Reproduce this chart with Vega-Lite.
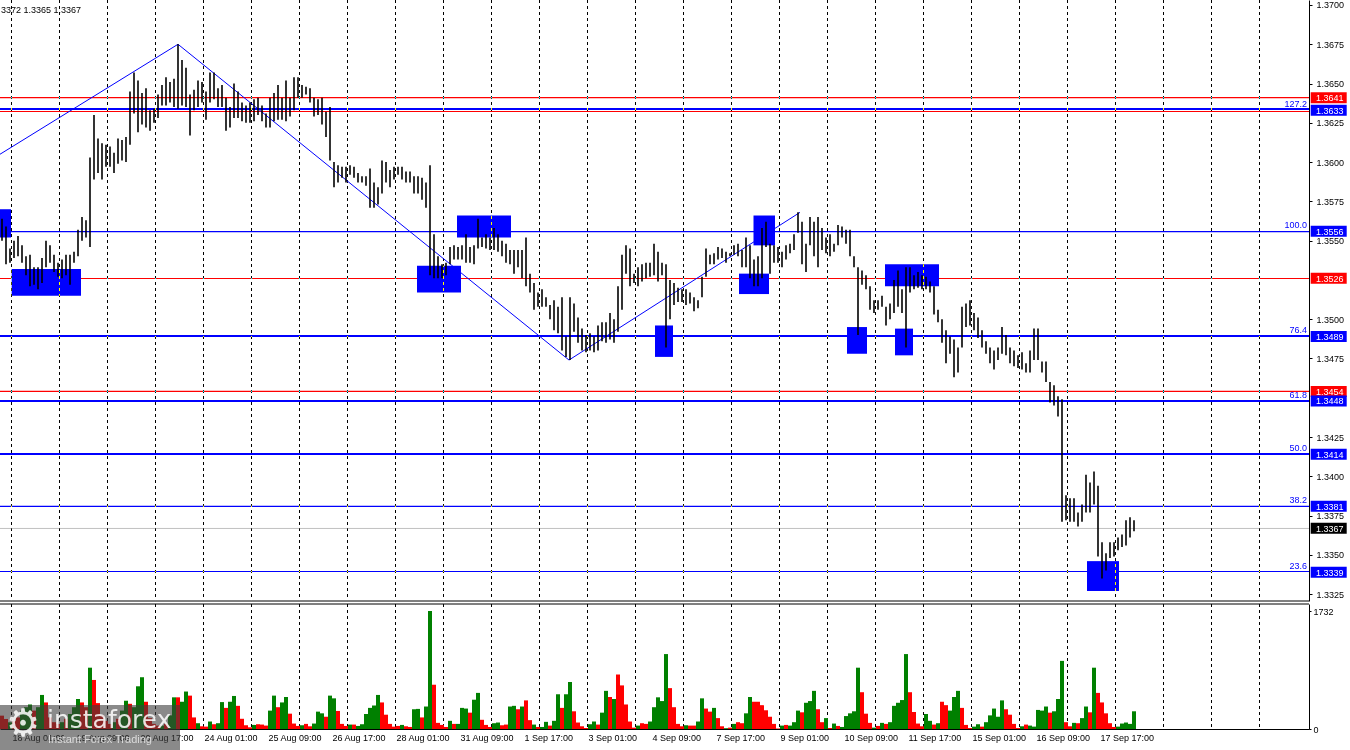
{
"$schema": "https://vega.github.io/schema/vega-lite/v6.json",
"autosize": {"type": "none"},
"padding": {"left": 0, "top": 0, "right": 41, "bottom": 21},
"background": "white",
"width": 1309,
"height": 729,
"config": {"view": {"stroke": null}, "axis": {"labelFont": "Liberation Sans", "labelFontSize": 9, "labelColor": "black", "domainColor": "black", "tickColor": "black", "grid": false, "title": null}, "text": {"font": "Liberation Sans"}},
"resolve": {"scale": {"y": "independent"}},
"datasets": {
"grid": [{"g":4.75},{"g":28.75},{"g":52.75},{"g":76.75},{"g":100.75},{"g":124.75},{"g":148.75},{"g":172.75},{"g":196.75},{"g":220.75},{"g":244.75},{"g":268.75},{"g":292.75},{"g":316.75},{"g":340.75},{"g":364.75},{"g":388.75},{"g":412.75},{"g":436.75},{"g":460.75},{"g":484.75},{"g":508.75},{"g":532.75},{"g":556.75},{"g":580.75},{"g":604.75},{"g":628.75}],
"res": [{"p":1.36411},{"p":1.36322},{"p":1.35259},{"p":1.3454}],
"fib": [{"p":1.35558},{"p":1.33808},{"p":1.33394}],
"fibx": [{"p":1.36338},{"p":1.34893},{"p":1.34479},{"p":1.34142}],
"cur": [{"p":1.33668}],
"fibtext": [{"p":1.3633,"s":"127.2"},{"p":1.3556,"s":"100.0"},{"p":1.3489,"s":"76.4"},{"p":1.3448,"s":"61.8"},{"p":1.3414,"s":"50.0"},{"p":1.3381,"s":"38.2"},{"p":1.3339,"s":"23.6"}],
"tags": [{"p":1.3641,"k":"r"},{"p":1.3633,"k":"b"},{"p":1.3556,"k":"b"},{"p":1.3526,"k":"r"},{"p":1.3489,"k":"b"},{"p":1.3454,"k":"r"},{"p":1.3448,"k":"b"},{"p":1.3414,"k":"b"},{"p":1.3381,"k":"b"},{"p":1.3367,"k":"c"},{"p":1.3339,"k":"b"}],
"boxes": [{"t1":-1,"t2":4.5,"p1":1.3570,"p2":1.3552},{"t1":4.85,"t2":39.5,"p1":1.3532,"p2":1.3515},{"t1":207.5,"t2":229.5,"p1":1.3534,"p2":1.3517},{"t1":227.5,"t2":254.5,"p1":1.3566,"p2":1.3552},{"t1":326.5,"t2":335.5,"p1":1.3496,"p2":1.3476},{"t1":368.5,"t2":383.5,"p1":1.3529,"p2":1.3516},{"t1":375.75,"t2":386.5,"p1":1.3566,"p2":1.3547},{"t1":422.5,"t2":432.5,"p1":1.3495,"p2":1.3478},{"t1":441.5,"t2":468.5,"p1":1.3535,"p2":1.3521},{"t1":446.5,"t2":455.5,"p1":1.3494,"p2":1.3477},{"t1":542.5,"t2":558.5,"p1":1.3346,"p2":1.3327}],
"zigzag": [{"t":-1,"p":1.3605},{"t":88,"p":1.3675},{"t":283.5,"p":1.3474},{"t":399,"p":1.3568}],
"bars": [
{"t":0,"h":1.3564,"l":1.3550,"v":196,"d":"d"},{"t":2,"h":1.3559,"l":1.3535,"v":147,"d":"d"},{"t":4,"h":1.3545,"l":1.3536,"v":98,"d":"u"},{"t":6,"h":1.3550,"l":1.3539,"v":120,"d":"d"},{"t":8,"h":1.3553,"l":1.3540,"v":170,"d":"d"},{"t":10,"h":1.3547,"l":1.3536,"v":270,"d":"u"},{"t":12,"h":1.3540,"l":1.3528,"v":320,"d":"u"},{"t":14,"h":1.3541,"l":1.3521,"v":360,"d":"u"},{"t":16,"h":1.3533,"l":1.3522,"v":270,"d":"d"},{"t":18,"h":1.3533,"l":1.3519,"v":320,"d":"u"},
{"t":20,"h":1.3539,"l":1.3523,"v":500,"d":"u"},{"t":22,"h":1.3550,"l":1.3533,"v":390,"d":"d"},{"t":24,"h":1.3547,"l":1.3536,"v":170,"d":"d"},{"t":26,"h":1.3541,"l":1.3530,"v":100,"d":"d"},{"t":28,"h":1.3536,"l":1.3527,"v":75,"d":"d"},{"t":30,"h":1.3538,"l":1.3526,"v":100,"d":"u"},{"t":32,"h":1.3541,"l":1.3528,"v":150,"d":"d"},{"t":34,"h":1.3541,"l":1.3522,"v":220,"d":"u"},{"t":36,"h":1.3543,"l":1.3536,"v":320,"d":"u"},{"t":38,"h":1.3557,"l":1.3540,"v":440,"d":"u"},
{"t":40,"h":1.3565,"l":1.3550,"v":390,"d":"d"},{"t":42,"h":1.3563,"l":1.3552,"v":320,"d":"d"},{"t":44,"h":1.3603,"l":1.3546,"v":900,"d":"u"},{"t":46,"h":1.3630,"l":1.3589,"v":720,"d":"d"},{"t":48,"h":1.3615,"l":1.3593,"v":380,"d":"d"},{"t":50,"h":1.3612,"l":1.3589,"v":200,"d":"d"},{"t":52,"h":1.3611,"l":1.3597,"v":120,"d":"d"},{"t":54,"h":1.3610,"l":1.3597,"v":75,"d":"d"},{"t":56,"h":1.3606,"l":1.3593,"v":100,"d":"u"},{"t":58,"h":1.3615,"l":1.3599,"v":150,"d":"d"},
{"t":60,"h":1.3614,"l":1.3601,"v":270,"d":"u"},{"t":62,"h":1.3616,"l":1.3600,"v":415,"d":"u"},{"t":64,"h":1.3645,"l":1.3611,"v":370,"d":"d"},{"t":66,"h":1.3657,"l":1.3631,"v":320,"d":"u"},{"t":68,"h":1.3652,"l":1.3619,"v":627,"d":"u"},{"t":70,"h":1.3644,"l":1.3624,"v":760,"d":"u"},{"t":72,"h":1.3647,"l":1.3622,"v":400,"d":"d"},{"t":74,"h":1.3633,"l":1.3620,"v":160,"d":"d"},{"t":76,"h":1.3634,"l":1.3625,"v":75,"d":"d"},{"t":78,"h":1.3643,"l":1.3628,"v":50,"d":"d"},
{"t":80,"h":1.3649,"l":1.3636,"v":50,"d":"u"},{"t":82,"h":1.3654,"l":1.3636,"v":75,"d":"d"},{"t":84,"h":1.3651,"l":1.3638,"v":200,"d":"u"},{"t":86,"h":1.3653,"l":1.3635,"v":465,"d":"u"},{"t":88,"h":1.3675,"l":1.3634,"v":465,"d":"d"},{"t":90,"h":1.3665,"l":1.3636,"v":400,"d":"u"},{"t":92,"h":1.3660,"l":1.3635,"v":550,"d":"u"},{"t":94,"h":1.3643,"l":1.3617,"v":490,"d":"d"},{"t":96,"h":1.3646,"l":1.3633,"v":170,"d":"d"},{"t":98,"h":1.3652,"l":1.3635,"v":85,"d":"u"},
{"t":100,"h":1.3651,"l":1.3638,"v":40,"d":"d"},{"t":102,"h":1.3645,"l":1.3627,"v":35,"d":"d"},{"t":104,"h":1.3657,"l":1.3638,"v":110,"d":"u"},{"t":106,"h":1.3657,"l":1.3640,"v":70,"d":"d"},{"t":108,"h":1.3647,"l":1.3635,"v":85,"d":"u"},{"t":110,"h":1.3649,"l":1.3635,"v":395,"d":"u"},{"t":112,"h":1.3641,"l":1.3620,"v":310,"d":"d"},{"t":114,"h":1.3635,"l":1.3622,"v":400,"d":"u"},{"t":116,"h":1.3650,"l":1.3628,"v":485,"d":"u"},{"t":118,"h":1.3645,"l":1.3628,"v":340,"d":"d"},
{"t":120,"h":1.3638,"l":1.3626,"v":150,"d":"d"},{"t":122,"h":1.3636,"l":1.3625,"v":55,"d":"d"},{"t":124,"h":1.3638,"l":1.3625,"v":25,"d":"d"},{"t":126,"h":1.3640,"l":1.3626,"v":60,"d":"u"},{"t":128,"h":1.3641,"l":1.3630,"v":70,"d":"d"},{"t":130,"h":1.3636,"l":1.3626,"v":65,"d":"d"},{"t":132,"h":1.3631,"l":1.3622,"v":50,"d":"d"},{"t":134,"h":1.3641,"l":1.3622,"v":270,"d":"u"},{"t":136,"h":1.3644,"l":1.3626,"v":490,"d":"u"},{"t":138,"h":1.3649,"l":1.3627,"v":320,"d":"d"},
{"t":140,"h":1.3641,"l":1.3627,"v":390,"d":"u"},{"t":142,"h":1.3652,"l":1.3626,"v":470,"d":"u"},{"t":144,"h":1.3641,"l":1.3629,"v":225,"d":"d"},{"t":146,"h":1.3654,"l":1.3633,"v":80,"d":"d"},{"t":148,"h":1.3654,"l":1.3641,"v":45,"d":"d"},{"t":150,"h":1.3649,"l":1.3641,"v":55,"d":"u"},{"t":152,"h":1.3648,"l":1.3643,"v":75,"d":"d"},{"t":154,"h":1.3647,"l":1.3638,"v":40,"d":"d"},{"t":156,"h":1.3641,"l":1.3629,"v":80,"d":"u"},{"t":158,"h":1.3640,"l":1.3630,"v":255,"d":"u"},
{"t":160,"h":1.3641,"l":1.3624,"v":230,"d":"u"},{"t":162,"h":1.3632,"l":1.3616,"v":180,"d":"d"},{"t":164,"h":1.3635,"l":1.3601,"v":490,"d":"u"},{"t":166,"h":1.3600,"l":1.3584,"v":450,"d":"u"},{"t":168,"h":1.3598,"l":1.3587,"v":265,"d":"d"},{"t":170,"h":1.3597,"l":1.3590,"v":75,"d":"d"},{"t":172,"h":1.3597,"l":1.3587,"v":45,"d":"d"},{"t":174,"h":1.3598,"l":1.3592,"v":65,"d":"u"},{"t":176,"h":1.3597,"l":1.3590,"v":65,"d":"d"},{"t":178,"h":1.3593,"l":1.3587,"v":45,"d":"u"},
{"t":180,"h":1.3591,"l":1.3587,"v":70,"d":"u"},{"t":182,"h":1.3591,"l":1.3585,"v":220,"d":"u"},{"t":184,"h":1.3596,"l":1.3571,"v":310,"d":"u"},{"t":186,"h":1.3587,"l":1.3571,"v":345,"d":"u"},{"t":188,"h":1.3584,"l":1.3573,"v":500,"d":"u"},{"t":190,"h":1.3601,"l":1.3580,"v":390,"d":"d"},{"t":192,"h":1.3600,"l":1.3587,"v":210,"d":"d"},{"t":194,"h":1.3595,"l":1.3584,"v":75,"d":"d"},{"t":196,"h":1.3597,"l":1.3589,"v":35,"d":"d"},{"t":198,"h":1.3597,"l":1.3592,"v":45,"d":"d"},
{"t":200,"h":1.3597,"l":1.3589,"v":60,"d":"u"},{"t":202,"h":1.3594,"l":1.3587,"v":40,"d":"d"},{"t":204,"h":1.3594,"l":1.3587,"v":30,"d":"d"},{"t":206,"h":1.3591,"l":1.3580,"v":290,"d":"u"},{"t":208,"h":1.3591,"l":1.3580,"v":295,"d":"u"},{"t":210,"h":1.3590,"l":1.3576,"v":170,"d":"d"},{"t":212,"h":1.3587,"l":1.3571,"v":330,"d":"u"},{"t":214,"h":1.3598,"l":1.3528,"v":1732,"d":"u"},{"t":216,"h":1.3554,"l":1.3526,"v":650,"d":"d"},{"t":218,"h":1.3540,"l":1.3526,"v":90,"d":"d"},
{"t":220,"h":1.3535,"l":1.3526,"v":60,"d":"d"},{"t":222,"h":1.3536,"l":1.3528,"v":30,"d":"d"},{"t":224,"h":1.3546,"l":1.3535,"v":120,"d":"u"},{"t":226,"h":1.3547,"l":1.3538,"v":75,"d":"d"},{"t":228,"h":1.3546,"l":1.3538,"v":75,"d":"u"},{"t":230,"h":1.3547,"l":1.3538,"v":310,"d":"u"},{"t":232,"h":1.3554,"l":1.3536,"v":300,"d":"u"},{"t":234,"h":1.3546,"l":1.3536,"v":240,"d":"d"},{"t":236,"h":1.3547,"l":1.3535,"v":430,"d":"u"},{"t":238,"h":1.3564,"l":1.3545,"v":530,"d":"u"},
{"t":240,"h":1.3552,"l":1.3546,"v":135,"d":"d"},{"t":242,"h":1.3554,"l":1.3545,"v":60,"d":"d"},{"t":244,"h":1.3552,"l":1.3544,"v":30,"d":"d"},{"t":246,"h":1.3558,"l":1.3544,"v":85,"d":"u"},{"t":248,"h":1.3554,"l":1.3543,"v":95,"d":"u"},{"t":250,"h":1.3550,"l":1.3540,"v":55,"d":"d"},{"t":252,"h":1.3548,"l":1.3536,"v":65,"d":"d"},{"t":254,"h":1.3544,"l":1.3535,"v":330,"d":"u"},{"t":256,"h":1.3544,"l":1.3529,"v":340,"d":"u"},{"t":258,"h":1.3544,"l":1.3533,"v":290,"d":"d"},
{"t":260,"h":1.3544,"l":1.3526,"v":330,"d":"u"},{"t":262,"h":1.3552,"l":1.3521,"v":420,"d":"d"},{"t":264,"h":1.3529,"l":1.3517,"v":130,"d":"d"},{"t":266,"h":1.3523,"l":1.3506,"v":65,"d":"u"},{"t":268,"h":1.3517,"l":1.3508,"v":30,"d":"d"},{"t":270,"h":1.3519,"l":1.3508,"v":30,"d":"u"},{"t":272,"h":1.3514,"l":1.3508,"v":105,"d":"u"},{"t":274,"h":1.3509,"l":1.3500,"v":50,"d":"d"},{"t":276,"h":1.3512,"l":1.3493,"v":120,"d":"u"},{"t":278,"h":1.3508,"l":1.3491,"v":510,"d":"u"},
{"t":280,"h":1.3514,"l":1.3480,"v":310,"d":"d"},{"t":282,"h":1.3489,"l":1.3476,"v":510,"d":"u"},{"t":284,"h":1.3514,"l":1.3474,"v":690,"d":"u"},{"t":286,"h":1.3510,"l":1.3492,"v":260,"d":"d"},{"t":288,"h":1.3501,"l":1.3485,"v":95,"d":"d"},{"t":290,"h":1.3494,"l":1.3480,"v":40,"d":"d"},{"t":292,"h":1.3490,"l":1.3479,"v":15,"d":"d"},{"t":294,"h":1.3491,"l":1.3480,"v":70,"d":"u"},{"t":296,"h":1.3489,"l":1.3479,"v":110,"d":"u"},{"t":298,"h":1.3496,"l":1.3480,"v":65,"d":"d"},
{"t":300,"h":1.3498,"l":1.3486,"v":240,"d":"u"},{"t":302,"h":1.3498,"l":1.3485,"v":560,"d":"u"},{"t":304,"h":1.3504,"l":1.3487,"v":470,"d":"d"},{"t":306,"h":1.3500,"l":1.3485,"v":440,"d":"u"},{"t":308,"h":1.3521,"l":1.3492,"v":800,"d":"d"},{"t":310,"h":1.3541,"l":1.3506,"v":640,"d":"d"},{"t":312,"h":1.3547,"l":1.3529,"v":360,"d":"d"},{"t":314,"h":1.3545,"l":1.3521,"v":110,"d":"d"},{"t":316,"h":1.3529,"l":1.3523,"v":20,"d":"d"},{"t":318,"h":1.3533,"l":1.3521,"v":50,"d":"u"},
{"t":320,"h":1.3535,"l":1.3524,"v":85,"d":"d"},{"t":322,"h":1.3536,"l":1.3526,"v":75,"d":"d"},{"t":324,"h":1.3536,"l":1.3527,"v":110,"d":"u"},{"t":326,"h":1.3548,"l":1.3528,"v":320,"d":"u"},{"t":328,"h":1.3543,"l":1.3524,"v":465,"d":"u"},{"t":330,"h":1.3536,"l":1.3528,"v":410,"d":"u"},{"t":332,"h":1.3535,"l":1.3482,"v":1100,"d":"u"},{"t":334,"h":1.3525,"l":1.3500,"v":600,"d":"d"},{"t":336,"h":1.3523,"l":1.3509,"v":320,"d":"d"},{"t":338,"h":1.3520,"l":1.3511,"v":75,"d":"d"},
{"t":340,"h":1.3519,"l":1.3511,"v":40,"d":"d"},{"t":342,"h":1.3519,"l":1.3509,"v":55,"d":"u"},{"t":344,"h":1.3517,"l":1.3510,"v":50,"d":"d"},{"t":346,"h":1.3514,"l":1.3505,"v":50,"d":"d"},{"t":348,"h":1.3512,"l":1.3507,"v":110,"d":"u"},{"t":350,"h":1.3527,"l":1.3514,"v":450,"d":"u"},{"t":352,"h":1.3545,"l":1.3527,"v":300,"d":"d"},{"t":354,"h":1.3541,"l":1.3535,"v":255,"d":"d"},{"t":356,"h":1.3542,"l":1.3535,"v":310,"d":"u"},{"t":358,"h":1.3546,"l":1.3538,"v":160,"d":"d"},
{"t":360,"h":1.3545,"l":1.3539,"v":40,"d":"d"},{"t":362,"h":1.3543,"l":1.3536,"v":12,"d":"u"},{"t":364,"h":1.3542,"l":1.3540,"v":20,"d":"d"},{"t":366,"h":1.3547,"l":1.3541,"v":75,"d":"u"},{"t":368,"h":1.3548,"l":1.3540,"v":100,"d":"d"},{"t":370,"h":1.3544,"l":1.3533,"v":85,"d":"d"},{"t":372,"h":1.3552,"l":1.3533,"v":230,"d":"u"},{"t":374,"h":1.3547,"l":1.3526,"v":470,"d":"u"},{"t":376,"h":1.3538,"l":1.3521,"v":400,"d":"d"},{"t":378,"h":1.3540,"l":1.3521,"v":400,"d":"d"},
{"t":380,"h":1.3558,"l":1.3526,"v":350,"d":"d"},{"t":382,"h":1.3562,"l":1.3546,"v":275,"d":"d"},{"t":384,"h":1.3548,"l":1.3529,"v":180,"d":"d"},{"t":386,"h":1.3547,"l":1.3536,"v":75,"d":"d"},{"t":388,"h":1.3546,"l":1.3536,"v":8,"d":"d"},{"t":390,"h":1.3543,"l":1.3533,"v":50,"d":"u"},{"t":392,"h":1.3547,"l":1.3538,"v":60,"d":"d"},{"t":394,"h":1.3548,"l":1.3542,"v":50,"d":"u"},{"t":396,"h":1.3554,"l":1.3544,"v":100,"d":"u"},{"t":398,"h":1.3568,"l":1.3555,"v":270,"d":"u"},
{"t":400,"h":1.3562,"l":1.3535,"v":245,"d":"d"},{"t":402,"h":1.3548,"l":1.3530,"v":385,"d":"u"},{"t":404,"h":1.3565,"l":1.3547,"v":410,"d":"u"},{"t":406,"h":1.3562,"l":1.3540,"v":560,"d":"u"},{"t":408,"h":1.3565,"l":1.3533,"v":290,"d":"d"},{"t":410,"h":1.3558,"l":1.3544,"v":100,"d":"d"},{"t":412,"h":1.3552,"l":1.3542,"v":160,"d":"u"},{"t":414,"h":1.3554,"l":1.3540,"v":15,"d":"d"},{"t":416,"h":1.3548,"l":1.3543,"v":80,"d":"u"},{"t":418,"h":1.3560,"l":1.3547,"v":45,"d":"d"},
{"t":420,"h":1.3559,"l":1.3552,"v":30,"d":"u"},{"t":422,"h":1.3557,"l":1.3548,"v":190,"d":"u"},{"t":424,"h":1.3557,"l":1.3540,"v":230,"d":"u"},{"t":426,"h":1.3540,"l":1.3533,"v":260,"d":"u"},{"t":428,"h":1.3533,"l":1.3490,"v":900,"d":"u"},{"t":430,"h":1.3531,"l":1.3522,"v":540,"d":"d"},{"t":432,"h":1.3528,"l":1.3519,"v":225,"d":"d"},{"t":434,"h":1.3521,"l":1.3506,"v":90,"d":"d"},{"t":436,"h":1.3512,"l":1.3504,"v":20,"d":"u"},{"t":438,"h":1.3512,"l":1.3506,"v":45,"d":"d"},
{"t":440,"h":1.3515,"l":1.3508,"v":90,"d":"u"},{"t":442,"h":1.3508,"l":1.3496,"v":75,"d":"d"},{"t":444,"h":1.3510,"l":1.3500,"v":100,"d":"u"},{"t":446,"h":1.3525,"l":1.3504,"v":340,"d":"u"},{"t":448,"h":1.3531,"l":1.3508,"v":385,"d":"u"},{"t":450,"h":1.3519,"l":1.3504,"v":425,"d":"u"},{"t":452,"h":1.3533,"l":1.3482,"v":1100,"d":"u"},{"t":454,"h":1.3533,"l":1.3517,"v":540,"d":"d"},{"t":456,"h":1.3528,"l":1.3519,"v":250,"d":"d"},{"t":458,"h":1.3530,"l":1.3520,"v":80,"d":"d"},
{"t":460,"h":1.3528,"l":1.3519,"v":40,"d":"d"},{"t":462,"h":1.3527,"l":1.3519,"v":220,"d":"u"},{"t":464,"h":1.3524,"l":1.3517,"v":120,"d":"u"},{"t":466,"h":1.3521,"l":1.3503,"v":65,"d":"d"},{"t":468,"h":1.3506,"l":1.3498,"v":85,"d":"u"},{"t":470,"h":1.3500,"l":1.3485,"v":400,"d":"d"},{"t":472,"h":1.3493,"l":1.3472,"v":350,"d":"d"},{"t":474,"h":1.3489,"l":1.3478,"v":270,"d":"u"},{"t":476,"h":1.3487,"l":1.3463,"v":470,"d":"u"},{"t":478,"h":1.3482,"l":1.3466,"v":560,"d":"u"},
{"t":480,"h":1.3508,"l":1.3482,"v":310,"d":"d"},{"t":482,"h":1.3510,"l":1.3495,"v":60,"d":"d"},{"t":484,"h":1.3512,"l":1.3496,"v":15,"d":"d"},{"t":486,"h":1.3504,"l":1.3493,"v":35,"d":"u"},{"t":488,"h":1.3501,"l":1.3488,"v":70,"d":"u"},{"t":490,"h":1.3493,"l":1.3482,"v":35,"d":"d"},{"t":492,"h":1.3486,"l":1.3478,"v":100,"d":"u"},{"t":494,"h":1.3482,"l":1.3472,"v":200,"d":"u"},{"t":496,"h":1.3480,"l":1.3468,"v":300,"d":"u"},{"t":498,"h":1.3482,"l":1.3474,"v":180,"d":"u"},
{"t":500,"h":1.3495,"l":1.3478,"v":420,"d":"u"},{"t":502,"h":1.3490,"l":1.3477,"v":290,"d":"d"},{"t":504,"h":1.3482,"l":1.3472,"v":210,"d":"d"},{"t":506,"h":1.3480,"l":1.3470,"v":75,"d":"d"},{"t":508,"h":1.3477,"l":1.3469,"v":15,"d":"d"},{"t":510,"h":1.3479,"l":1.3468,"v":40,"d":"u"},{"t":512,"h":1.3472,"l":1.3466,"v":65,"d":"d"},{"t":514,"h":1.3480,"l":1.3466,"v":50,"d":"u"},{"t":516,"h":1.3494,"l":1.3474,"v":35,"d":"u"},{"t":518,"h":1.3494,"l":1.3474,"v":280,"d":"u"},
{"t":520,"h":1.3473,"l":1.3466,"v":270,"d":"u"},{"t":522,"h":1.3473,"l":1.3460,"v":330,"d":"u"},{"t":524,"h":1.3460,"l":1.3447,"v":240,"d":"d"},{"t":526,"h":1.3458,"l":1.3445,"v":260,"d":"u"},{"t":528,"h":1.3451,"l":1.3438,"v":440,"d":"u"},{"t":530,"h":1.3449,"l":1.3371,"v":1000,"d":"u"},{"t":532,"h":1.3388,"l":1.3372,"v":100,"d":"d"},{"t":534,"h":1.3386,"l":1.3371,"v":40,"d":"d"},{"t":536,"h":1.3386,"l":1.3371,"v":90,"d":"u"},{"t":538,"h":1.3377,"l":1.3368,"v":85,"d":"d"},
{"t":540,"h":1.3382,"l":1.3371,"v":160,"d":"u"},{"t":542,"h":1.3401,"l":1.3377,"v":330,"d":"u"},{"t":544,"h":1.3396,"l":1.3377,"v":245,"d":"d"},{"t":546,"h":1.3403,"l":1.3382,"v":900,"d":"u"},{"t":548,"h":1.3394,"l":1.3349,"v":530,"d":"d"},{"t":550,"h":1.3358,"l":1.3335,"v":390,"d":"d"},{"t":552,"h":1.3351,"l":1.3340,"v":230,"d":"d"},{"t":554,"h":1.3358,"l":1.3348,"v":85,"d":"d"},{"t":556,"h":1.3358,"l":1.3349,"v":30,"d":"d"},{"t":558,"h":1.3361,"l":1.3353,"v":35,"d":"u"},
{"t":560,"h":1.3363,"l":1.3355,"v":80,"d":"u"},{"t":562,"h":1.3372,"l":1.3356,"v":95,"d":"u"},{"t":564,"h":1.3374,"l":1.3361,"v":75,"d":"u"},{"t":566,"h":1.3372,"l":1.3365,"v":260,"d":"u"}
]
},
"layer": [
{"data": {"name": "grid"}, "mark": {"type": "rule", "color": "black", "strokeDash": [3, 3], "strokeWidth": 1},
 "encoding": {"x": {"field": "g", "type": "quantitative", "scale": {"domain": [-1, 653.5], "padding": 0},
   "axis": {"values": [5, 37, 69, 101, 133, 165, 197, 229, 261, 293, 325, 357, 389, 421, 453, 485, 517, 549], "labelExpr": "['18 Aug 01:00','19 Aug 09:00','20 Aug 17:00','24 Aug 01:00','25 Aug 09:00','26 Aug 17:00','28 Aug 01:00','31 Aug 09:00','1 Sep 17:00','3 Sep 01:00','4 Sep 09:00','7 Sep 17:00','9 Sep 01:00','10 Sep 09:00','11 Sep 17:00','15 Sep 01:00','16 Sep 09:00','17 Sep 17:00'][round((datum.value-5)/32)]", "labelAlign": "left", "labelFlush": false, "labelOverlap": false, "ticks": false, "labelPadding": 4, "domain": true, "title": null}},
  "y": {"datum": 1835, "type": "quantitative", "scale": {"domain": [0, 1835], "range": [729, 604], "nice": false, "zero": false}, "axis": null},
  "y2": {"datum": 0}}},
{"data": {"name": "bars"}, "mark": {"type": "bar", "width": 4},
 "encoding": {"x": {"field": "t", "type": "quantitative", "scale": {"domain": [-1, 653.5], "padding": 0}},
  "y": {"field": "v", "type": "quantitative", "scale": {"domain": [0, 1835], "range": [729, 604], "nice": false, "zero": false},
   "axis": {"orient": "right", "values": [0, 1732], "format": "d", "tickSize": 2, "labelPadding": 2, "domain": true, "title": null}},
  "y2": {"datum": 0},
  "color": {"field": "d", "type": "nominal", "scale": {"domain": ["r", "b", "c", "u", "d"], "range": ["#ff0000", "#0000ff", "#000000", "#008000", "#ff0000"]}, "legend": null}}},
{"data": {"values": [{"s": "separator"}]}, "mark": {"type": "rule", "color": "black", "strokeWidth": 1},
 "encoding": {"y": {"datum": 1835, "type": "quantitative", "scale": {"domain": [0, 1835], "range": [729, 604], "nice": false, "zero": false}, "axis": null}}},
{"data": {"values": [{"s": "separator"}]}, "mark": {"type": "rule", "color": "black", "strokeWidth": 1},
 "encoding": {"y": {"datum": 1.332062, "type": "quantitative", "scale": {"domain": [1.332062, 1.370318], "range": [601, 0], "zero": false, "nice": false}, "axis": null}}},
{"data": {"name": "cur"}, "mark": {"type": "rule", "color": "#c0c0c0", "strokeWidth": 1},
 "encoding": {"y": {"field": "p", "type": "quantitative", "scale": {"domain": [1.332062, 1.370318], "range": [601, 0], "zero": false, "nice": false}, "axis": null}}},
{"data": {"name": "res"}, "mark": {"type": "rule", "color": "#ff0000", "strokeWidth": 1.2},
 "encoding": {"y": {"field": "p", "type": "quantitative", "scale": {"domain": [1.332062, 1.370318], "range": [601, 0], "zero": false, "nice": false}, "axis": null}}},
{"data": {"name": "fib"}, "mark": {"type": "rule", "color": "#0000ff", "strokeWidth": 1.2},
 "encoding": {"y": {"field": "p", "type": "quantitative", "scale": {"domain": [1.332062, 1.370318], "range": [601, 0], "zero": false, "nice": false}, "axis": null}}},
{"data": {"name": "fibx"}, "mark": {"type": "rule", "color": "#0000ff", "strokeWidth": 2},
 "encoding": {"y": {"field": "p", "type": "quantitative", "scale": {"domain": [1.332062, 1.370318], "range": [601, 0], "zero": false, "nice": false}, "axis": null}}},
{"data": {"name": "boxes"}, "mark": {"type": "rect", "color": "#0000ff"},
 "encoding": {"x": {"field": "t1", "type": "quantitative", "scale": {"domain": [-1, 653.5], "padding": 0}}, "x2": {"field": "t2"},
  "y": {"field": "p1", "type": "quantitative", "scale": {"domain": [1.332062, 1.370318], "range": [601, 0], "zero": false, "nice": false}, "axis": null}, "y2": {"field": "p2"}}},
{"data": {"name": "grid"}, "mark": {"type": "rule", "color": "white", "strokeDash": [3, 3], "strokeWidth": 1, "blend": "difference"},
 "encoding": {"x": {"field": "g", "type": "quantitative", "scale": {"domain": [-1, 653.5], "padding": 0}},
  "y": {"datum": 1.370318, "type": "quantitative", "scale": {"domain": [1.332062, 1.370318], "range": [601, 0], "zero": false, "nice": false}, "axis": null},
  "y2": {"datum": 1.332062}}},
{"data": {"name": "zigzag"}, "mark": {"type": "line", "color": "#0000ff", "strokeWidth": 1, "clip": true},
 "encoding": {"x": {"field": "t", "type": "quantitative", "scale": {"domain": [-1, 653.5], "padding": 0}},
  "y": {"field": "p", "type": "quantitative", "scale": {"domain": [1.332062, 1.370318], "range": [601, 0], "zero": false, "nice": false}, "axis": null}}},
{"data": {"name": "bars"}, "mark": {"type": "rule", "color": "black", "strokeWidth": 1.6, "strokeCap": "butt"},
 "encoding": {"x": {"field": "t", "type": "quantitative", "scale": {"domain": [-1, 653.5], "padding": 0}},
  "y": {"field": "l", "type": "quantitative", "scale": {"domain": [1.332062, 1.370318], "range": [601, 0], "zero": false, "nice": false},
   "axis": {"orient": "right", "values": [1.3325, 1.335, 1.3375, 1.34, 1.3425, 1.3475, 1.35, 1.355, 1.3575, 1.36, 1.3625, 1.365, 1.3675, 1.37], "format": ".4f", "tickSize": 3, "labelPadding": 4, "domain": true, "title": null, "labelOverlap": false}},
  "y2": {"field": "h"}}},
{"data": {"name": "fibtext"}, "mark": {"type": "text", "align": "right", "baseline": "bottom", "dy": -1, "fontSize": 9, "color": "#0000ff"},
 "encoding": {"x": {"datum": 652.5, "type": "quantitative", "scale": {"domain": [-1, 653.5], "padding": 0}},
  "y": {"field": "p", "type": "quantitative", "scale": {"domain": [1.332062, 1.370318], "range": [601, 0], "zero": false, "nice": false}, "axis": null},
  "text": {"field": "s"}}},
{"data": {"name": "tags"}, "mark": {"type": "rule", "strokeWidth": 11, "strokeCap": "butt"},
 "encoding": {"x": {"datum": 654.35, "type": "quantitative", "scale": {"domain": [-1, 653.5], "padding": 0}}, "x2": {"datum": 672.35},
  "y": {"field": "p", "type": "quantitative", "scale": {"domain": [1.332062, 1.370318], "range": [601, 0], "zero": false, "nice": false}, "axis": null},
  "color": {"field": "k", "type": "nominal", "scale": {"domain": ["r", "b", "c", "u", "d"], "range": ["#ff0000", "#0000ff", "#000000", "#008000", "#ff0000"]}, "legend": null}}},
{"data": {"name": "tags"}, "mark": {"type": "text", "align": "left", "baseline": "middle", "fontSize": 9, "color": "white", "dy": 0.5},
 "encoding": {"x": {"datum": 657, "type": "quantitative", "scale": {"domain": [-1, 653.5], "padding": 0}},
  "y": {"field": "p", "type": "quantitative", "scale": {"domain": [1.332062, 1.370318], "range": [601, 0], "zero": false, "nice": false}, "axis": null},
  "text": {"field": "p", "format": ".4f"}}},
{"data": {"values": [{"s": "3372 1.3365 1.3367"}]}, "mark": {"type": "text", "align": "left", "baseline": "middle", "fontSize": 9, "color": "black"},
 "encoding": {"x": {"datum": -0.5, "type": "quantitative", "scale": {"domain": [-1, 653.5], "padding": 0}},
  "y": {"datum": 1.36965, "type": "quantitative", "scale": {"domain": [1.332062, 1.370318], "range": [601, 0], "zero": false, "nice": false}, "axis": null},
  "text": {"field": "s"}}},
{"data": {"values": [{"s": "watermark"}]}, "mark": {"type": "rect", "color": "#3c3c3c", "opacity": 0.6},
 "encoding": {"x": {"datum": -1, "type": "quantitative", "scale": {"domain": [-1, 653.5], "padding": 0}}, "x2": {"datum": 89},
  "y": {"datum": 352, "type": "quantitative", "scale": {"domain": [0, 1835], "range": [729, 604], "nice": false, "zero": false}, "axis": null}, "y2": {"datum": -308}}},
{"data": {"values": [{"s": "⚙"}]}, "mark": {"type": "text", "align": "center", "baseline": "middle", "fontSize": 38, "font": "DejaVu Sans", "color": "white", "opacity": 0.85},
 "encoding": {"x": {"datum": 10.5, "type": "quantitative", "scale": {"domain": [-1, 653.5], "padding": 0}},
  "y": {"datum": 59, "type": "quantitative", "scale": {"domain": [0, 1835], "range": [729, 604], "nice": false, "zero": false}, "axis": null}, "text": {"field": "s"}}},
{"data": {"values": [{"s": "instaforex"}]}, "mark": {"type": "text", "align": "left", "baseline": "alphabetic", "fontSize": 25, "font": "DejaVu Sans", "color": "white", "opacity": 0.85},
 "encoding": {"x": {"datum": 22.5, "type": "quantitative", "scale": {"domain": [-1, 653.5], "padding": 0}},
  "y": {"datum": 15, "type": "quantitative", "scale": {"domain": [0, 1835], "range": [729, 604], "nice": false, "zero": false}, "axis": null}, "text": {"field": "s"}}},
{"data": {"values": [{"s": "Instant Forex Trading"}]}, "mark": {"type": "text", "align": "left", "baseline": "middle", "fontSize": 11, "font": "Liberation Sans", "color": "#e8e8e8", "opacity": 0.85},
 "encoding": {"x": {"datum": 23, "type": "quantitative", "scale": {"domain": [-1, 653.5], "padding": 0}},
  "y": {"datum": -161, "type": "quantitative", "scale": {"domain": [0, 1835], "range": [729, 604], "nice": false, "zero": false}, "axis": null}, "text": {"field": "s"}}}
]
}
